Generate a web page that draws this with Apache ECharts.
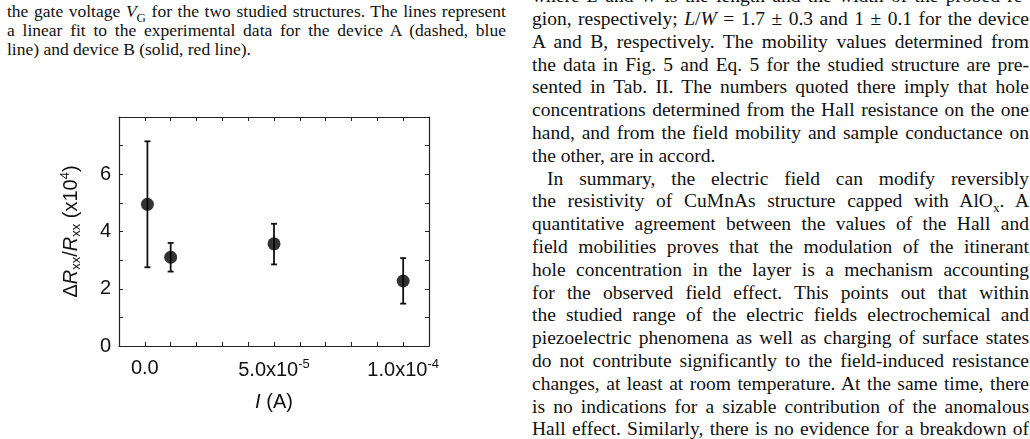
<!DOCTYPE html>
<html><head><meta charset="utf-8">
<script src="https://cdn.jsdelivr.net/npm/echarts@6/dist/echarts.min.js"></script>
<style>
body{margin:0;background:#fff;width:1030px;height:439px;overflow:hidden;position:relative;font-family:"Liberation Serif","Times New Roman",serif;color:#111}
.ln{position:absolute;white-space:nowrap;text-align:justify;text-align-last:justify}
.cap .ln{font-size:17.5px;line-height:19px;left:7px;width:499px}
.col .ln{font-size:19.5px;line-height:22.8px;left:532px;width:497px}
.ln.last{text-align-last:left}
#chart{position:absolute;left:0;top:0;width:460px;height:439px}
</style></head><body>
<div class="cap">
<div class="ln" style="top:2px">the gate voltage <i>V</i><sub style="font-size:13px">G</sub> for the two studied structures. The lines represent</div>
<div class="ln" style="top:21px">a linear fit to the experimental data for the device A (dashed, blue</div>
<div class="ln last" style="top:40px">line) and device B (solid, red line).</div>
</div>
<div class="col" id="col"></div>
<div id="chart"></div>
<script>
// text lines of the right column
const colLines = [
 ["where <i>L</i> and <i>W</i> is the length and the width of the probed re-",0],
 ["gion, respectively; <i>L</i>/<i>W</i> = 1.7 ± 0.3 and 1 ± 0.1 for the device",0],
 ["A and B, respectively. The mobility values determined from",0],
 ["the data in Fig. 5 and Eq. 5 for the studied structure are pre-",0],
 ["sented in Tab. II. The numbers quoted there imply that hole",0],
 ["concentrations determined from the Hall resistance on the one",0],
 ["hand, and from the field mobility and sample conductance on",0],
 ["the other, are in accord.",2],
 ["In summary, the electric field can modify reversibly",1],
 ["the resistivity of CuMnAs structure capped with AlO<sub style='font-size:13px'>x</sub>. A",0],
 ["quantitative agreement between the values of the Hall and",0],
 ["field mobilities proves that the modulation of the itinerant",0],
 ["hole concentration in the layer is a mechanism accounting",0],
 ["for the observed field effect. This points out that within",0],
 ["the studied range of the electric fields electrochemical and",0],
 ["piezoelectric phenomena as well as charging of surface states",0],
 ["do not contribute significantly to the field-induced resistance",0],
 ["changes, at least at room temperature. At the same time, there",0],
 ["is no indications for a sizable contribution of the anomalous",0],
 ["Hall effect. Similarly, there is no evidence for a breakdown of",0]
];
const col = document.getElementById('col');
colLines.forEach((l,i)=>{
  const d=document.createElement('div');
  d.className='ln'+(l[1]===2?' last':'');
  d.style.top=(-14.8+i*22.8)+'px';
  if(l[1]===1){d.style.left='547px';d.style.width='482px';}
  d.innerHTML=l[0];col.appendChild(d);
});

// chart data
const currents = [1e-6, 1e-5, 5e-5, 1e-4];
const dR = [4.95, 3.1, 3.57, 2.27];
const errLow = [2.75, 2.6, 2.85, 1.48];
const errHigh = [7.15, 3.6, 4.27, 3.07];
const xTickLabels = [0, 5e-5, 1e-4];

const pts = currents.map((c,i)=>[c,dR[i]]);
const errs = currents.map((c,i)=>[c,errLow[i],errHigh[i]]);
const fam = '"Liberation Sans",Arial,sans-serif';
function xfmt(v){
  if(Math.abs(v)<1e-12) return '0.0';
  const e=Math.floor(Math.log10(Math.abs(v))+1e-9);
  const m=(v/Math.pow(10,e)).toFixed(1);
  return m+'x10{s|'+e+'}';
}
const chart = echarts.init(document.getElementById('chart'));
const axLine={show:true,onZero:false,lineStyle:{color:'#222',width:1.2}};
const tick={show:true,inside:true,length:4,lineStyle:{color:'#222'}};
chart.setOption({
  animation:false,
  grid:{left:119,top:117,width:310,height:229},
  xAxis:[{type:'value',min:-1e-5,max:1.1e-4,interval:1e-5,
    axisLine:axLine,splitLine:{show:false},axisTick:tick,
    axisLabel:{customValues:xTickLabels,formatter:xfmt,fontFamily:fam,fontSize:20,color:'#111',margin:12,
      rich:{s:{fontSize:13,verticalAlign:'top',padding:[0,0,11,0],fontFamily:fam,color:'#111'}}},
    name:'{i|I} (A)',nameLocation:'middle',nameGap:46,
    nameTextStyle:{fontFamily:fam,fontSize:20,color:'#111',rich:{i:{fontStyle:'italic',fontFamily:fam,fontSize:20,color:'#111'}}}},
   {type:'value',position:'top',min:-1e-5,max:1.1e-4,interval:1e-5,axisLine:axLine,
    axisTick:tick,axisLabel:{show:false},splitLine:{show:false}}],
  yAxis:[{type:'value',min:0,max:8,interval:1,axisLine:axLine,splitLine:{show:false},axisTick:tick,
    axisLabel:{formatter:v=>v%2===0&&v<8?String(v):'',fontFamily:fam,fontSize:20,color:'#111',margin:8},
    name:'Δ{i|R}{s|xx}/{i|R}{s|xx} (x10{p|4})',nameLocation:'middle',nameGap:36,
    nameTextStyle:{fontFamily:fam,fontSize:20,color:'#111',rich:{
      i:{fontStyle:'italic',fontFamily:fam,fontSize:20,color:'#111'},
      s:{fontSize:13,verticalAlign:'bottom',padding:[8,0,0,0],fontFamily:fam,color:'#111'},
      p:{fontSize:13,verticalAlign:'top',padding:[0,0,11,0],fontFamily:fam,color:'#111'}}}},
   {type:'value',position:'right',min:0,max:8,interval:1,axisLine:axLine,
    axisTick:tick,axisLabel:{show:false},splitLine:{show:false}}],
  series:[
   {type:'custom',xAxisIndex:0,yAxisIndex:0,data:errs,
    renderItem:(p,api)=>{
      const x=api.value(0),lo=api.coord([x,api.value(1)]),hi=api.coord([x,api.value(2)]);
      const st={stroke:'#111',lineWidth:1.8};
      return {type:'group',children:[
        {type:'line',shape:{x1:lo[0],y1:lo[1],x2:hi[0],y2:hi[1]},style:st},
        {type:'line',shape:{x1:lo[0]-3,y1:lo[1],x2:lo[0]+3,y2:lo[1]},style:st},
        {type:'line',shape:{x1:hi[0]-3,y1:hi[1],x2:hi[0]+3,y2:hi[1]},style:st}]};
    }},
   {type:'scatter',data:pts,symbol:'circle',symbolSize:13,itemStyle:{color:'#000'},z:5}
  ]
});
</script>
</body></html>
